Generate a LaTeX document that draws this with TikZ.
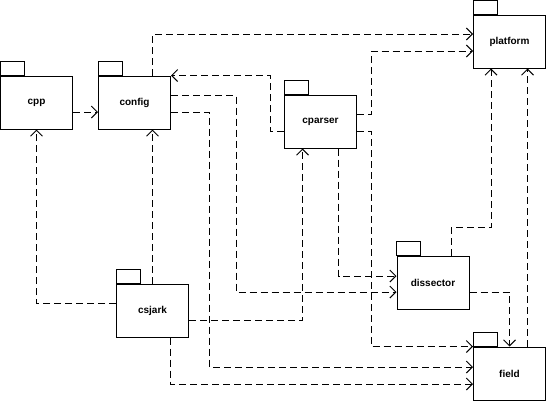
\documentclass[tikz,border=0pt]{standalone}
\usepackage{fontspec}
\newfontfamily\pkgfont{Liberation Sans}
\usetikzlibrary{arrows.meta}
\usetikzlibrary{calc}

\tikzset{
	pkg/.style={draw, rectangle, inner sep=0pt, minimum width=72pt, minimum height=53pt, font=\pkgfont\bfseries\fontsize{10}{12}\selectfont},
	dep/.style={dash pattern=on 7pt off 4pt, -{Straight Barb[length=6pt,width=12pt]}}
}

\begin{document}
\begin{tikzpicture}[x=1pt,y=-1pt,line width=1pt]
	\useasboundingbox (0,0) rectangle (546,402);
	
	\node[pkg] (cpp) at (36.5,102.5) {cpp};
	\node[pkg] (config) at (134.5,102.5) {config};
	\node[pkg] (cparser) at (320.5,121.5) {cparser};
	\node[pkg] (platform) at (509.5,41.5) {platform};
	\node[pkg] (csjark) at (152.5,310.5) {csjark};
	\node[pkg] (dissector) at (433,282.5) {dissector};
	\node[pkg] (field) at (509.5,373.5) {field};
	
	% tabs
	\foreach \p in {cpp,config,cparser,platform,csjark,dissector,field}
		\draw (\p.north west) rectangle ++(24,-14);
	
	\draw[dep] ($(cpp.east)+(0,9.5)$) -- ($(config.west)+(0,9.5)$);
	
	\draw[dep] ($(config.north)+(18,0)$) |- ($(platform.west)+(0,-7.5)$);
	
	\draw[dep] ($(cparser.west)+(0,9.5)$) -- ++(-14,0) |- (config.north east);
	
	\draw[dep] ($(config.east)+(0,-7)$) -- ++(65,0) |- ($(dissector.west)+(0,9.5)$);
	
	\draw[dep] ($(config.east)+(0,9.5)$) -- ++(38.5,0) |- ($(field.west)+(0,-6.5)$);
	
	\draw[dep] ($(csjark.west)+(0,-7)$) -| (cpp.south);
	
	\draw[dep] (csjark.north) -- (csjark.north |- config.south);
	
	\draw[dep] ($(csjark.east)+(0,9.5)$) -| ($(cparser.south)+(-18,0)$);
	
	\draw[dep] ($(csjark.south)+(18,0)$) |- ($(field.west)+(0,10.5)$);
	
	\draw[dep] ($(cparser.south)+(18,0)$) |- ($(dissector.west)+(0,-6.5)$);
	
	\draw[dep] ($(cparser.east)+(0,-7)$) -- ++(14,0) |- ($(platform.west)+(0,9.5)$);
	
	\draw[dep] ($(cparser.east)+(0,9.5)$) -- ++(14,0) |- (field.north west);
	
	\draw[dep] ($(dissector.north)+(18,0)$) -- ++(0,-28) -| ($(platform.south)+(-18.5,0)$);
	
	\draw[dep] ($(field.north)+(18,0)$) -- ($(platform.south)+(18,0)$);
	
	\draw[dep] ($(dissector.east)+(0,9.5)$) -| (field.north);
\end{tikzpicture}
\end{document}
